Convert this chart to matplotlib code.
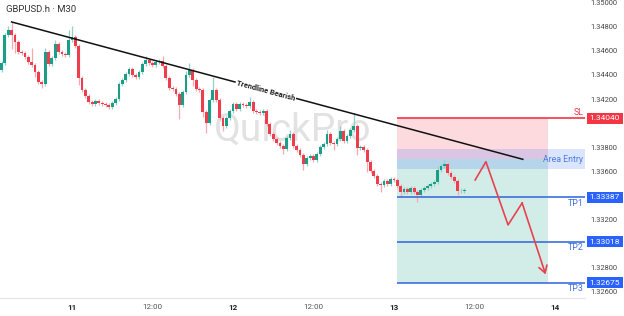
import numpy as np
import matplotlib.pyplot as plt

plt.rcParams['font.family'] = ['Roboto', 'DejaVu Sans']

# GBPUSD M30 candles, x in hours from day 11 00:00 (first candle 10th 13:30)
first_open = 1.34441
closes = [
    1.34499, 1.34731, 1.34772, 1.34731, 1.34673, 1.34590, 1.34582, 1.34549, 1.34507, 1.34482,
    1.34424, 1.34341, 1.34325, 1.34590, 1.34491, 1.34540, 1.34656, 1.34590, 1.34573, 1.34565,
    1.34690, 1.34714, 1.34640, 1.34374, 1.34275, 1.34225, 1.34175, 1.34159, 1.34184, 1.34167,
    1.34159, 1.34151, 1.34134, 1.34167, 1.34200, 1.34325, 1.34358, 1.34408, 1.34449, 1.34399,
    1.34383, 1.34424, 1.34491, 1.34524, 1.34499, 1.34482, 1.34507, 1.34515, 1.34474, 1.34374,
    1.34292, 1.34283, 1.34242, 1.34151, 1.34258, 1.34399, 1.34441, 1.34358, 1.34283, 1.34275,
    1.34092, 1.34001, 1.34192, 1.34275, 1.34192, 1.34043, 1.33976, 1.34043, 1.34101, 1.34159,
    1.34117, 1.34159, 1.34151, 1.34142, 1.34175, 1.34101, 1.34092, 1.34084, 1.34101, 1.33993,
    1.33910, 1.33869, 1.33835, 1.33811, 1.33786, 1.33877, 1.33910, 1.33811, 1.33777, 1.33736,
    1.33661, 1.33711, 1.33728, 1.33694, 1.33744, 1.33802, 1.33827, 1.33910, 1.33835, 1.33827,
    1.33869, 1.33935, 1.33852, 1.33893, 1.33943, 1.33976, 1.33794, 1.33802, 1.33777, 1.33678,
    1.33603, 1.33562, 1.33495, 1.33487, 1.33520, 1.33495, 1.33537, 1.33529, 1.33479, 1.33429,
    1.33454, 1.33429, 1.33462, 1.33429, 1.33404, 1.33446, 1.33462, 1.33479, 1.33495, 1.33512,
    1.33612, 1.33645, 1.33661, 1.33587, 1.33554, 1.33520, 1.33438, 1.33438, 1.33446,
]
# wick lengths beyond the body, in pips
wick_up = [
    2, 2, 3, 7, 2, 2, 2, 2, 2, 12,
    2, 2, 2, 3, 2, 2, 3, 2, 2, 2,
    8, 9, 2, 2, 2, 2, 2, 2, 2, 2,
    2, 2, 2, 2, 2, 2, 2, 2, 2, 2,
    2, 2, 2, 3, 2, 2, 2, 2, 4, 2,
    2, 2, 2, 2, 2, 3, 6, 2, 2, 2,
    2, 2, 2, 11, 2, 2, 2, 2, 2, 2,
    2, 2, 2, 2, 4, 2, 2, 2, 2, 2,
    2, 2, 2, 2, 2, 2, 3, 2, 2, 2,
    2, 2, 2, 2, 2, 2, 2, 3, 2, 2,
    2, 4, 2, 2, 2, 11, 2, 2, 2, 2,
    2, 2, 2, 2, 2, 2, 2, 2, 2, 2,
    2, 2, 2, 2, 2, 2, 2, 2, 2, 2,
    3, 2, 3, 2, 2, 2, 2, 2, 2,
]
wick_dn = [
    2, 2, 2, 12, 9, 2, 2, 2, 2, 2,
    4, 2, 3, 2, 2, 2, 2, 2, 2, 2,
    2, 2, 2, 6, 2, 2, 2, 2, 2, 2,
    2, 2, 2, 2, 2, 2, 2, 2, 2, 2,
    2, 2, 2, 2, 2, 2, 2, 2, 2, 2,
    2, 2, 2, 12, 2, 2, 2, 5, 2, 2,
    4, 8, 2, 2, 2, 2, 4, 2, 2, 2,
    2, 2, 2, 2, 2, 2, 2, 2, 2, 2,
    2, 2, 2, 2, 4, 2, 2, 2, 2, 2,
    5, 2, 2, 2, 2, 2, 2, 2, 2, 5,
    2, 2, 2, 2, 2, 2, 6, 2, 2, 8,
    2, 2, 2, 6, 2, 2, 2, 2, 2, 4,
    2, 2, 2, 2, 6, 2, 2, 2, 2, 2,
    2, 2, 2, 2, 2, 2, 3, 2, 2,
]

# trade setup
sl = 1.34040
entry = 1.33702
area_top, area_bot = 1.33785, 1.33620
tps = [1.33387, 1.33018, 1.32675]
tp_names = ['TP1', 'TP2', 'TP3']
zone_t0, zone_t1 = 48.5, 71.0
trend_t = [-9.0, 67.2]
trend_p = [1.34839, 1.33700]
zig_t = [60.1, 61.7, 65.0, 67.1, 70.6]
zig_p = [1.33529, 1.33680, 1.33156, 1.33338, 1.32745]

xticks = [0, 12, 24, 36, 48, 60, 72]
xlabels = ['11', '12:00', '12', '12:00', '13', '12:00', '14']
yticks = [1.326, 1.328, 1.332, 1.336, 1.338, 1.342, 1.344, 1.346, 1.348, 1.350]

RED = '#f23645'
GREEN = '#089981'
BLUE = '#2962ff'
XMAX = 76.47

fig = plt.figure(figsize=(6.24, 3.16), dpi=100)
ax = fig.add_axes([0, 18 / 316, 585 / 624, 298 / 316])
ax.set_xlim(-10.73, XMAX)
ax.set_ylim(1.32550, 1.35021)

# zones
ax.fill_between([zone_t0, zone_t1], entry, sl, color=RED, alpha=0.18, lw=0, zorder=0)
ax.fill_between([zone_t0, zone_t1], tps[2], entry, color=GREEN, alpha=0.18, lw=0, zorder=0)
ax.fill_between([zone_t0, XMAX], area_bot, area_top, color=BLUE, alpha=0.16, lw=0, zorder=0.5)

ax.text(32.9, 1.33943, 'QuickPro', fontsize=28, color='#e2e2e2', ha='center', va='center', zorder=0.2)

# candles
c = np.array(closes)
o = np.array([first_open] + closes[:-1])
t = -10.5 + 0.5 * np.arange(len(c))
hi = np.maximum(o, c) + np.array(wick_up) * 0.0001
lo = np.minimum(o, c) - np.array(wick_dn) * 0.0001
up = c >= o
body_col = np.where(up, '#1a9e88', '#ee3d4c')
wick_col = np.where(up, '#93d1c6', '#f4a9b1')
ax.vlines(t, lo, hi, colors=wick_col, lw=0.9, zorder=2)
ax.bar(t, np.maximum(np.abs(c - o), 0.00003), bottom=np.minimum(o, c), width=0.42,
       color=body_col, lw=0, zorder=3)

# trendline, broken behind its label
gap = [24.3, 33.5]
gp = np.interp(gap, trend_t, trend_p)
ax.plot([trend_t[0], gap[0]], [trend_p[0], gp[0]], color='#111111', lw=1.1, zorder=4)
ax.plot([gap[1], trend_t[1]], [gp[1], trend_p[1]], color='#111111', lw=1.1, zorder=4)
ax.text(28.9, np.interp(28.9, trend_t, trend_p), 'Trendline Bearish', fontsize=5.5,
        fontweight='bold', color='#222222', rotation=-15.2, rotation_mode='anchor',
        ha='center', va='center', zorder=4)

# levels
ytr = ax.get_yaxis_transform()
ax.hlines(sl, zone_t0, XMAX, color=RED, lw=1.2, zorder=4)
ax.text(0.997, sl + 0.00008, 'SL', transform=ytr, fontsize=6.3, color=RED, ha='right', va='bottom')
ax.text(0.997, (area_top + area_bot) / 2, 'Area Entry', transform=ytr, fontsize=6.3,
        color='#4a7fe0', ha='right', va='center')
ax.text(1.008, sl, f'{sl:.5f}', transform=ytr, fontsize=6, color='white', ha='left',
        va='center', clip_on=False, zorder=6,
        bbox=dict(boxstyle='square,pad=0.3', fc=RED, ec='none'))
for p, name in zip(tps, tp_names):
    ax.hlines(p, zone_t0, XMAX, color='#3d6fe0', lw=1.2, zorder=4)
    ax.text(0.997, p - 0.00012, name, transform=ytr, fontsize=6.3, color='#3d6fe0',
            ha='right', va='top')
    ax.text(1.008, p, f'{p:.5f}', transform=ytr, fontsize=6, color='white', ha='left',
            va='center', clip_on=False, zorder=6,
            bbox=dict(boxstyle='square,pad=0.3', fc=BLUE, ec='none'))

# projected path
ax.plot(zig_t[:-1], zig_p[:-1], color='#e8424f', lw=1.2, zorder=5)
ax.annotate('', xy=(zig_t[-1], zig_p[-1]), xytext=(zig_t[-2], zig_p[-2]),
            arrowprops=dict(arrowstyle='->,head_length=0.5,head_width=0.3',
                            color='#e8424f', lw=1.2, shrinkA=0, shrinkB=0), zorder=5)

# axes
ax.set_xticks(xticks)
ax.set_xticklabels(xlabels, fontsize=5.8, color='#555555')
for lab, txt in zip(ax.get_xticklabels(), xlabels):
    if ':' not in txt:
        lab.set_fontweight('bold')
        lab.set_color('#222222')
ax.yaxis.tick_right()
ax.set_yticks(yticks)
ax.set_yticklabels([f'{v:.5f}' for v in yticks], fontsize=5.4, color='#444444')
ax.tick_params(length=0, pad=4)
for s in ['top', 'left', 'right']:
    ax.spines[s].set_visible(False)
ax.spines['bottom'].set_color('#e3e5ea')
ax.spines['bottom'].set_linewidth(0.8)

fig.text(6 / 624, 1 - 10 / 316, 'GBPUSD.h · M30', fontsize=6.8, color='#333333',
         ha='left', va='center')

fig.savefig('out.png', dpi=100, facecolor='white')
